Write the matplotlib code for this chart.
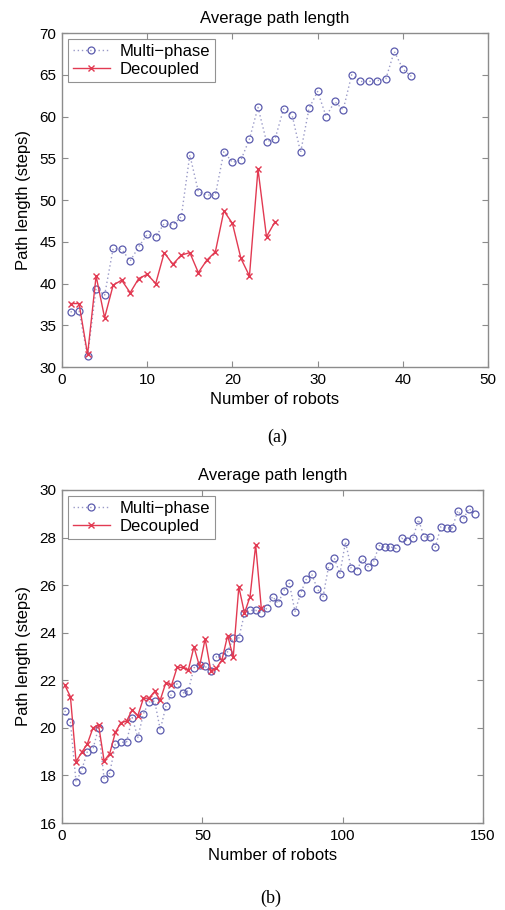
import matplotlib
matplotlib.use("Agg")
import matplotlib.pyplot as plt
import numpy as np

plt.rcParams['font.family'] = ['Liberation Sans', 'DejaVu Sans']

# (a) robots 1..41 / 1..25
robots_a_multi = list(range(1, 42))
path_a_multi = [36.6, 36.7, 31.3, 39.4, 38.6, 44.2, 44.1, 42.7, 44.4, 45.9,
                45.6, 47.2, 47.0, 48.0, 55.4, 51.0, 50.6, 50.6, 55.8, 54.5,
                54.8, 57.3, 61.1, 57.0, 57.3, 60.9, 60.2, 55.7, 61.0, 63.0,
                60.0, 61.8, 60.8, 65.0, 64.2, 64.2, 64.3, 64.5, 67.8, 65.7,
                64.8]
robots_a_dec = list(range(1, 26))
path_a_dec = [37.6, 37.6, 31.5, 40.9, 35.9, 39.8, 40.4, 38.9, 40.6, 41.1,
              40.0, 43.7, 42.3, 43.4, 43.7, 41.3, 42.8, 43.8, 48.7, 47.2,
              43.0, 40.9, 53.7, 45.6, 47.4]

# (b) robots 1,3,...,147 / 1,3,...,71
robots_b_multi = list(range(1, 148, 2))
path_b_multi = [20.72, 20.24, 17.72, 18.22, 18.99, 19.10, 20.00, 17.86, 18.10, 19.31,
                19.39, 19.41, 20.43, 19.59, 20.59, 21.08, 21.13, 19.92, 20.90, 21.42,
                21.86, 21.46, 21.56, 22.52, 22.64, 22.58, 22.41, 22.99, 23.03, 23.20,
                23.77, 23.77, 24.81, 24.94, 24.94, 24.82, 25.03, 25.52, 25.23, 25.77,
                26.07, 24.89, 25.65, 26.24, 26.45, 25.83, 25.51, 26.80, 27.14, 26.47,
                27.82, 26.71, 26.61, 27.10, 26.77, 26.99, 27.66, 27.59, 27.61, 27.54,
                27.97, 27.87, 27.97, 28.75, 28.03, 28.03, 27.59, 28.46, 28.42, 28.38,
                29.13, 28.78, 29.22, 28.98]
robots_b_dec = list(range(1, 72, 2))
path_b_dec = [21.79, 21.31, 18.58, 18.97, 19.32, 19.99, 20.14, 18.61, 18.92, 19.81,
              20.22, 20.28, 20.76, 20.51, 21.24, 21.25, 21.53, 21.17, 21.90, 21.79,
              22.54, 22.54, 22.43, 23.41, 22.58, 23.74, 22.41, 22.51, 22.86, 23.88,
              22.97, 25.93, 24.82, 25.52, 27.69, 25.03]

BLUE = '#5c5cae'
BLUE_LINE = '#9a9ac8'
RED = '#e23a52'
GRAY = '#8c8c8c'

fig = plt.figure(figsize=(5.05, 9.10), dpi=100)
ax1 = fig.add_axes([0.1228, 0.5967, 0.8436, 0.367])
ax2 = fig.add_axes([0.1228, 0.0956, 0.8337, 0.366])


def style(ax, xlim, ylim, xticks, yticks):
    ax.set_xlim(*xlim)
    ax.set_ylim(*ylim)
    ax.set_xticks(xticks)
    ax.set_yticks(yticks)
    for s in ax.spines.values():
        s.set_color(GRAY)
        s.set_linewidth(1.0)
    ax.tick_params(direction='in', top=True, right=True, length=4,
                   color=GRAY, labelsize=11, pad=4)
    ax.set_title('Average path length', fontsize=12, pad=7)
    ax.set_xlabel('Number of robots', fontsize=12, labelpad=4)
    ax.set_ylabel('Path length (steps)', fontsize=12, labelpad=6)


def draw(ax, xm, ym, xd, yd):
    ax.plot(xm, ym, linestyle=(0, (1, 2)), color=BLUE_LINE, linewidth=1.0,
            marker='o', markersize=5, markerfacecolor='none',
            markeredgecolor=BLUE, markeredgewidth=0.9, label='Multi\u2212phase')
    ax.plot(xd, yd, linestyle='-', color=RED, linewidth=1.0,
            marker='x', markersize=4, markeredgewidth=1.0, label='Decoupled')
    leg = ax.legend(loc='upper left', fontsize=12, frameon=True, fancybox=False,
                    borderaxespad=0.35, handlelength=2.2, borderpad=0.3,
                    labelspacing=0.2, handletextpad=0.6, numpoints=1)
    leg.get_frame().set_edgecolor('#777777')
    leg.get_frame().set_linewidth(0.8)


draw(ax1, robots_a_multi, path_a_multi, robots_a_dec, path_a_dec)
style(ax1, (0, 50), (30, 70), np.arange(0, 51, 10), np.arange(30, 71, 5))

draw(ax2, robots_b_multi, path_b_multi, robots_b_dec, path_b_dec)
style(ax2, (0, 150), (16, 30), np.arange(0, 151, 50), np.arange(16, 31, 2))

fig.text(0.55, 0.5198, '(a)', ha='center', va='center', fontsize=13,
         family=['Liberation Serif', 'DejaVu Serif'])
fig.text(0.536, 0.0132, '(b)', ha='center', va='center', fontsize=13,
         family=['Liberation Serif', 'DejaVu Serif'])

fig.savefig('out.png', dpi=100)
